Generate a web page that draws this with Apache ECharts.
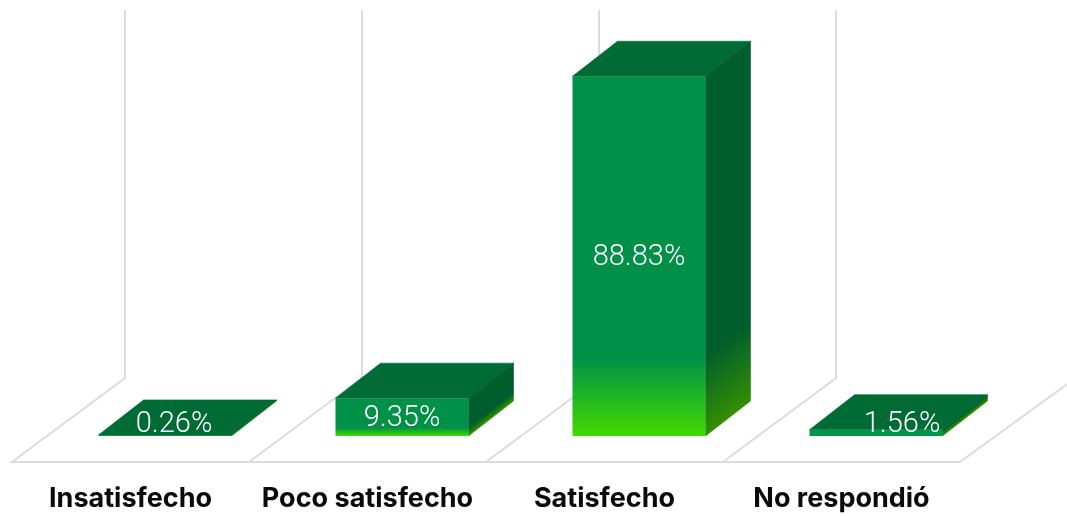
<!DOCTYPE html>
<html>
<head>
<meta charset="utf-8">
<style>html,body{margin:0;padding:0;background:#fff}#c{width:1067px;height:516px}</style>
<script src="https://cdn.jsdelivr.net/npm/echarts@6/dist/echarts.min.js"></script>
</head>
<body>
<div id="c"></div>
<script>
const categories = ['Insatisfecho', 'Poco satisfecho', 'Satisfecho', 'No respondió'];
const values = [0.26, 9.35, 88.83, 1.56];
const valueLabels = ['0.26%', '9.35%', '88.83%', '1.56%'];

// drawing style only
const labelShiftX = [9, 0, 0, 26];
const DX = 45, DY = 35, BAR_W = 133, BAR_SHIFT = 34.5, FLOOR_DROP = 26, WALL_DX = 113, WALL_DY = 84, WALL_TOP = 10;
const LINE = '#dcdcdc';

const chart = echarts.init(document.getElementById('c'), null, {renderer: 'canvas'});
const G = echarts.graphic;

function renderFloor(params, api) {
  const i = api.value(0);
  const c = api.coord([i, 0]);
  const band = api.size([1, 0])[0];
  const x0 = c[0] - band / 2, yF = c[1] + FLOOR_DROP, yB = yF - WALL_DY;
  const st = {stroke: LINE, lineWidth: 2, fill: null};
  const kids = [
    {type: 'polyline', shape: {points: [[x0 + band, yF], [x0, yF], [x0 + WALL_DX, yB], [x0 + WALL_DX, WALL_TOP]]}, style: st}
  ];
  if (i === categories.length - 1) {
    kids.push({type: 'line', shape: {x1: x0 + band, y1: yF, x2: x0 + band + WALL_DX, y2: yB + 2}, style: st});
  }
  return {type: 'group', children: kids};
}

function renderBar(params, api) {
  const i = api.value(0);
  const base = api.coord([i, 0]);
  const top = api.coord([i, api.value(1)]);
  const x0 = base[0] + BAR_SHIFT - BAR_W / 2, x1 = x0 + BAR_W, yb = base[1], yt = top[1];
  const h = yb - yt;
  const nLen = Math.hypot(DX, DY), nx = DY / nLen, ny = DX / nLen, reach = h * ny;
  const sideFill = new G.LinearGradient(
    x1 - nx * reach, yb - ny * reach, x1, yb,
    [{offset: 0, color: '#005e2c'}, {offset: Math.min(0.78, 1 - 6 / Math.max(reach, 7)), color: '#005e2c'}, {offset: 1, color: '#338f00'}], true);
  const frontFill = new G.LinearGradient(0, 0, 0, 1,
    [{offset: 0, color: '#009048'}, {offset: 0.78, color: '#009048'}, {offset: 1, color: '#42da00'}]);
  const lx = x0 + BAR_W / 2 + labelShiftX[i];
  const ly = Math.min((yb + yt) / 2, yb - 13) + 1.5;
  return {type: 'group', children: [
    {type: 'polygon', shape: {points: [[x0, yt], [x1, yt], [x1 + DX, yt - DY], [x0 + DX, yt - DY]]}, style: {fill: '#006b35', stroke: '#006b35', lineWidth: 0.6}},
    {type: 'polygon', shape: {points: [[x1, yb], [x1 + DX, yb - DY], [x1 + DX, yt - DY], [x1, yt]]}, style: {fill: sideFill, stroke: sideFill, lineWidth: 0.6}},
    {type: 'rect', shape: {x: x0, y: yt, width: BAR_W, height: h}, style: {fill: h < 8 ? '#00964c' : frontFill}},
    {type: 'text', x: lx, y: ly, style: {
      text: valueLabels[i], fill: '#ffffff', font: '300 29px Roboto, "Open Sans", sans-serif',
      textAlign: 'center', textVerticalAlign: 'middle'
    }}
  ]};
}

chart.setOption({
  animation: false,
  grid: {left: 12, right: 107, top: 31, bottom: 80},
  xAxis: {
    type: 'category', data: categories,
    axisLine: {show: false}, axisTick: {show: false}, splitLine: {show: false},
    axisLabel: {margin: 49, color: '#0a0a0a', fontFamily: 'Inter, sans-serif', fontWeight: 700, fontSize: 27, interval: 0}
  },
  yAxis: {type: 'value', min: 0, max: 100, show: false},
  series: [
    {type: 'custom', silent: true, clip: false, z: 1, renderItem: renderFloor,
     encode: {x: 0, y: 1}, data: values.map((v, i) => [i, v])},
    {type: 'custom', silent: true, clip: false, z: 2, renderItem: renderBar,
     encode: {x: 0, y: 1}, data: values.map((v, i) => [i, v])}
  ]
});
</script>
</body>
</html>
